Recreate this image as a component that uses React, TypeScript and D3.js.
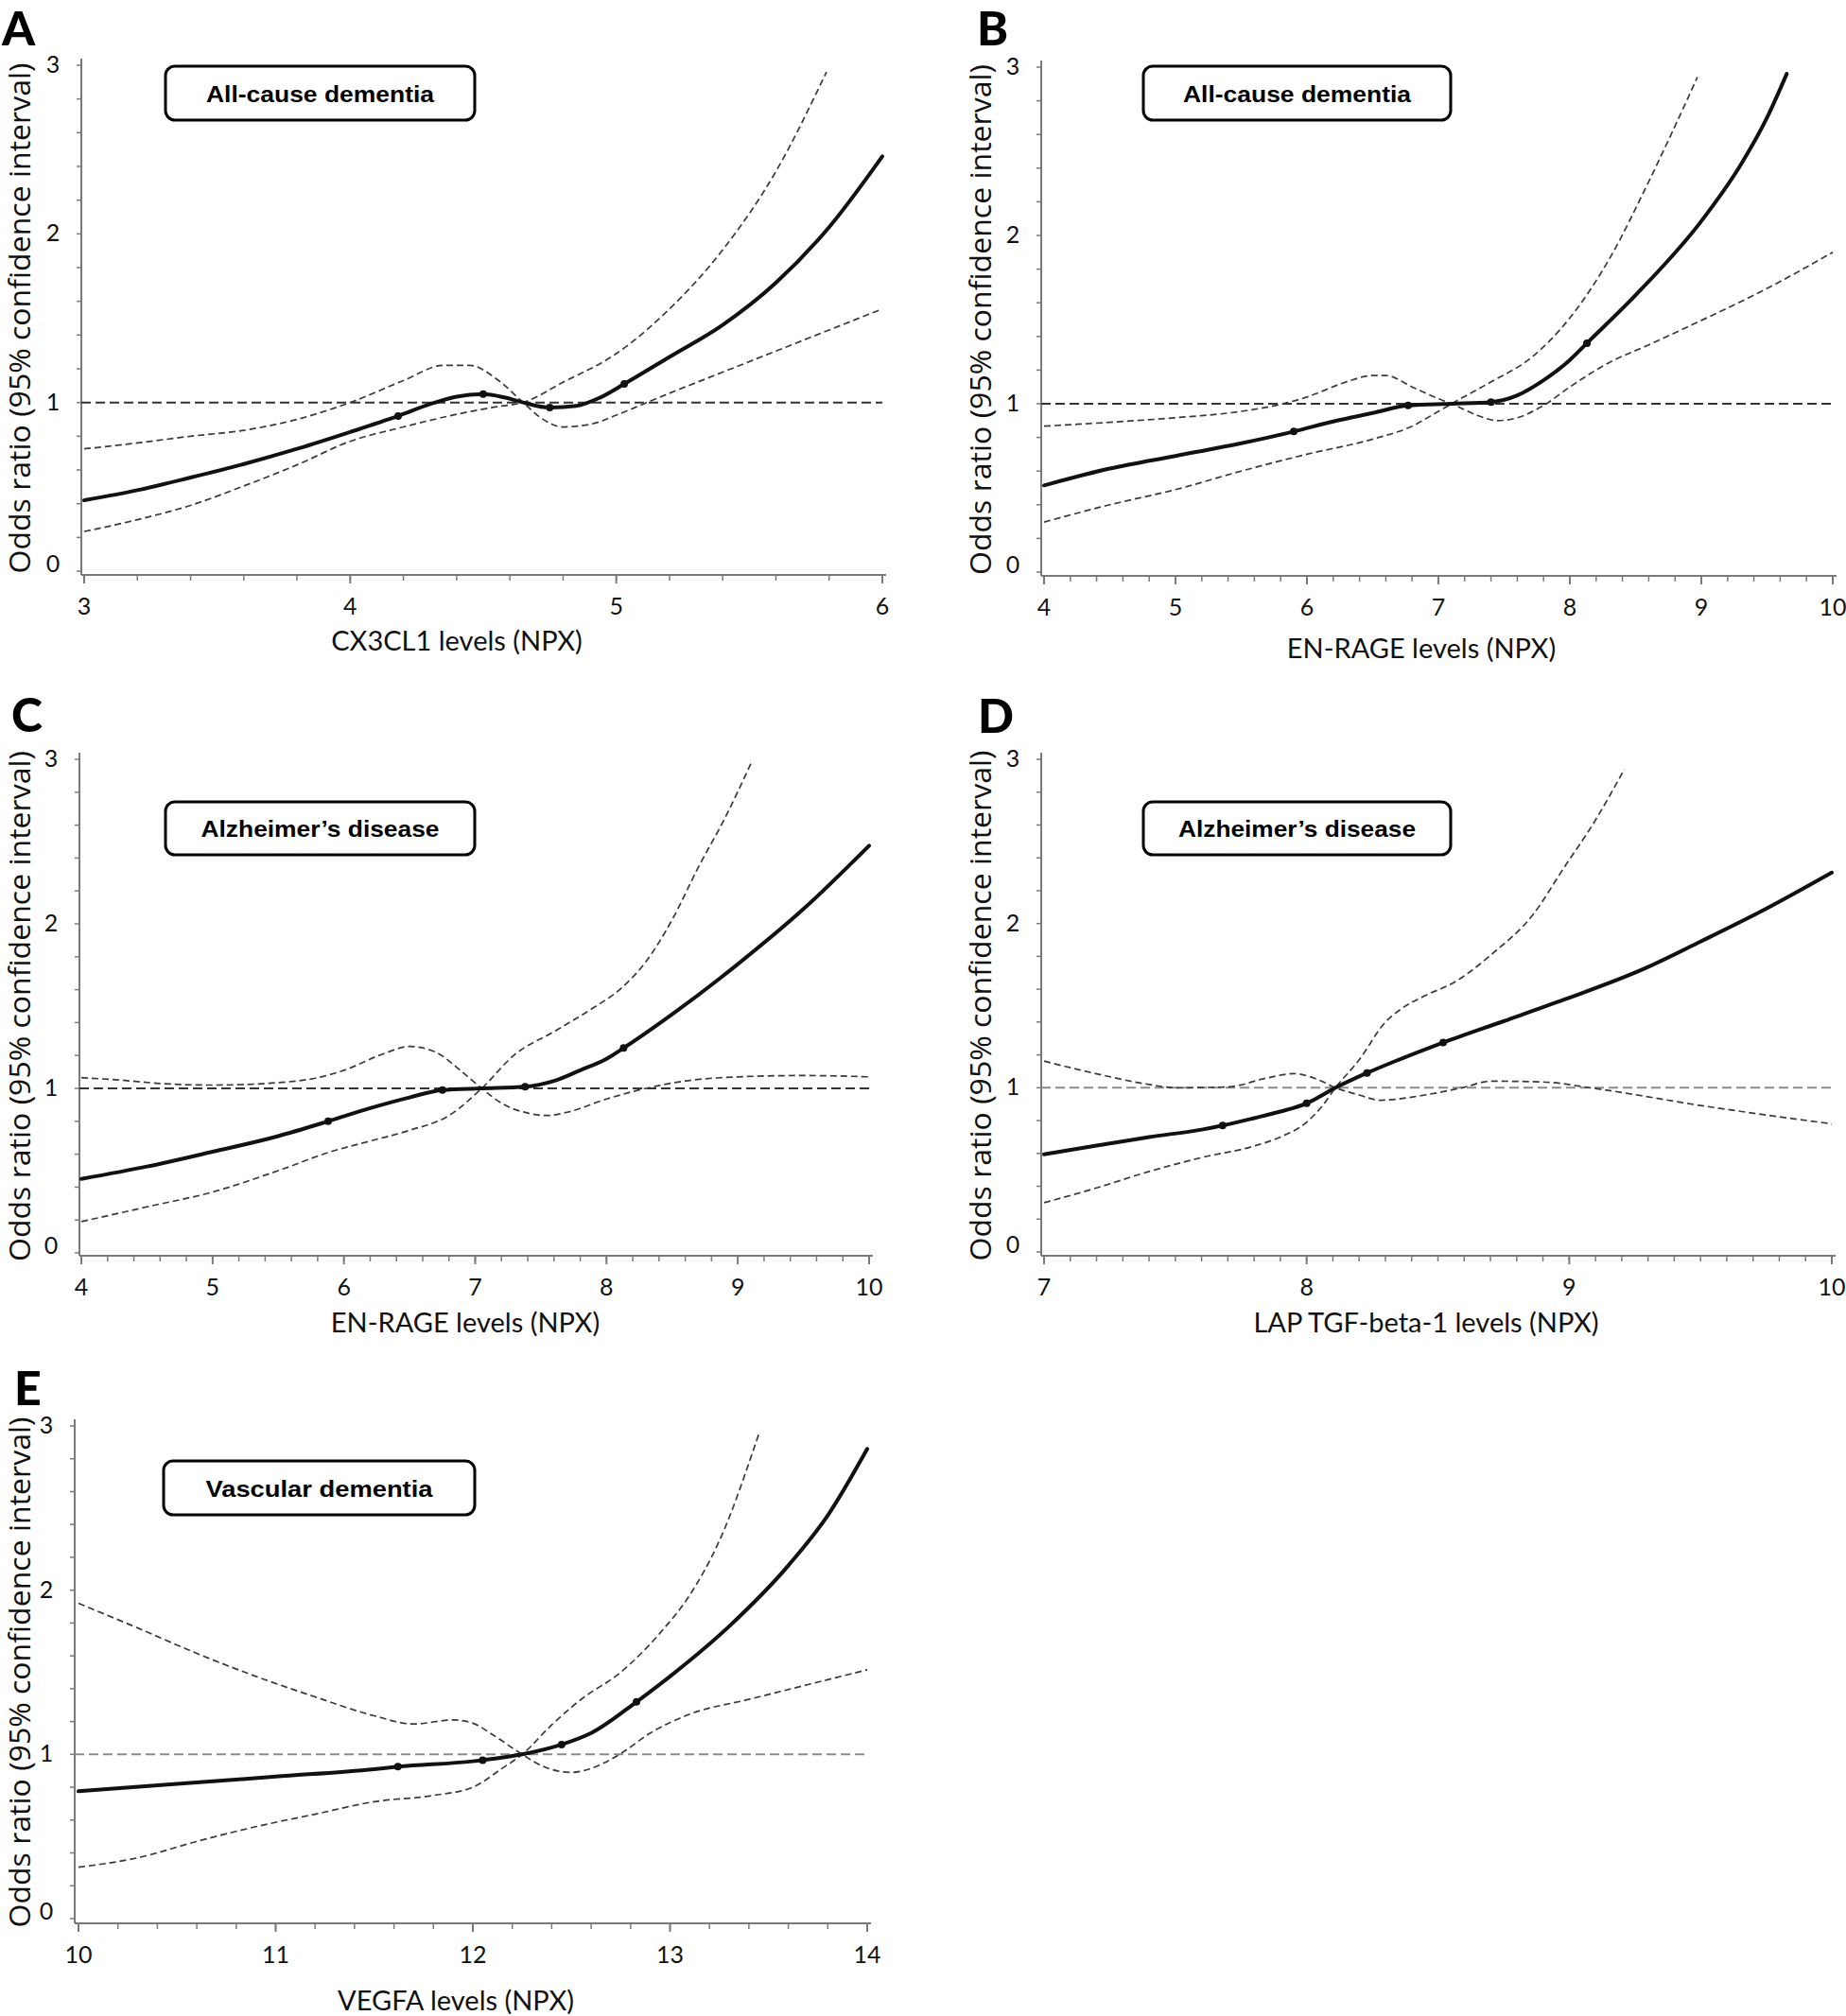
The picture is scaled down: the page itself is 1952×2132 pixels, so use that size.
import React from 'react';
import * as d3 from 'd3';

type Pt = [number, number];

// ---------- DATA ----------
const Y_TICKS = [0, 1, 2, 3];
const Y_LABEL = 'Odds ratio (95% confidence interval)';

// Panel A
const A_xTicks = [3, 4, 5, 6];
const A_main: Pt[] = [[3, 0.42], [3.2, 0.48], [3.4, 0.555], [3.6, 0.635], [3.8, 0.725], [4.0, 0.825], [4.18, 0.92], [4.3, 0.99], [4.4, 1.035], [4.5, 1.05], [4.58, 1.03], [4.65, 1.0], [4.75, 0.97], [4.85, 0.98], [4.94, 1.03], [5.03, 1.11], [5.2, 1.27], [5.4, 1.46], [5.6, 1.71], [5.8, 2.04], [6.0, 2.46]];
const A_ci1: Pt[] = [[3, 0.235], [3.2, 0.305], [3.4, 0.39], [3.6, 0.505], [3.8, 0.63], [4.0, 0.77], [4.2, 0.855], [4.4, 0.93], [4.55, 0.975], [4.65, 1.0], [4.8, 1.12], [5.0, 1.29], [5.2, 1.555], [5.4, 1.905], [5.6, 2.37], [5.79, 2.96]];
const A_ci2: Pt[] = [[3, 0.725], [3.2, 0.76], [3.4, 0.80], [3.6, 0.835], [3.8, 0.9], [4.0, 1.0], [4.2, 1.13], [4.35, 1.22], [4.45, 1.22], [4.55, 1.14], [4.65, 1.0], [4.72, 0.905], [4.8, 0.855], [4.9, 0.87], [5.0, 0.925], [5.1, 0.99], [5.2, 1.055], [5.4, 1.18], [5.6, 1.305], [5.8, 1.43], [6.0, 1.555]];
const A_dots: Pt[] = [[4.18, 0.92], [4.5, 1.05], [4.75, 0.97], [5.03, 1.11]];

// Panel B
const B_xTicks = [4, 5, 6, 7, 8, 9, 10];
const B_main: Pt[] = [[4, 0.515], [4.5, 0.615], [5, 0.69], [5.5, 0.765], [5.9, 0.835], [6.2, 0.895], [6.5, 0.945], [6.77, 0.99], [7.1, 1.0], [7.4, 1.01], [7.6, 1.05], [7.8, 1.14], [8.0, 1.26], [8.13, 1.36], [8.5, 1.645], [9.0, 2.085], [9.3, 2.42], [9.5, 2.7], [9.65, 2.96]];
const B_ci1: Pt[] = [[4, 0.297], [4.5, 0.4], [5, 0.49], [5.5, 0.6], [6, 0.7], [6.5, 0.79], [6.8, 0.867], [7.0, 0.955], [7.1, 1.0], [7.4, 1.13], [7.7, 1.27], [8.0, 1.51], [8.3, 1.86], [8.6, 2.32], [8.8, 2.65], [8.97, 2.94]];
const B_ci2: Pt[] = [[4, 0.867], [4.5, 0.89], [5, 0.917], [5.5, 0.955], [5.8, 0.997], [6.0, 1.04], [6.3, 1.13], [6.5, 1.168], [6.6, 1.168], [6.8, 1.1], [7.0, 1.03], [7.1, 1.0], [7.3, 0.93], [7.45, 0.9], [7.6, 0.917], [7.8, 0.99], [8.0, 1.1], [8.3, 1.245], [8.6, 1.35], [9.0, 1.495], [9.5, 1.685], [10, 1.9]];
const B_dots: Pt[] = [[5.9, 0.835], [6.77, 0.99], [7.4, 1.01], [8.13, 1.36]];

// Panel C
const C_xTicks = [4, 5, 6, 7, 8, 9, 10];
const C_main: Pt[] = [[4, 0.45], [4.5, 0.525], [5, 0.615], [5.5, 0.71], [5.88, 0.8], [6.2, 0.88], [6.5, 0.945], [6.75, 0.99], [7.05, 1.0], [7.38, 1.01], [7.6, 1.045], [7.8, 1.11], [8.0, 1.18], [8.13, 1.245], [8.5, 1.45], [9, 1.755], [9.5, 2.09], [10, 2.475]];
const C_ci1: Pt[] = [[4, 0.19], [4.5, 0.28], [5, 0.37], [5.5, 0.5], [5.9, 0.615], [6.2, 0.68], [6.5, 0.745], [6.8, 0.835], [7.05, 1.0], [7.3, 1.205], [7.6, 1.345], [7.9, 1.49], [8.1, 1.6], [8.3, 1.77], [8.5, 2.025], [8.7, 2.345], [8.9, 2.64], [9.1, 2.975]];
const C_ci2: Pt[] = [[4, 1.065], [4.3, 1.05], [4.6, 1.03], [5, 1.02], [5.5, 1.035], [5.8, 1.065], [6.0, 1.11], [6.3, 1.21], [6.5, 1.255], [6.7, 1.22], [6.9, 1.1], [7.05, 1.0], [7.2, 0.91], [7.4, 0.85], [7.55, 0.835], [7.7, 0.855], [8.0, 0.935], [8.3, 1.0], [8.6, 1.045], [9.0, 1.07], [9.5, 1.078], [10, 1.07]];
const C_dots: Pt[] = [[5.88, 0.8], [6.75, 0.99], [7.38, 1.01], [8.13, 1.245]];

// Panel D
const D_xTicks = [7, 8, 9, 10];
const D_main: Pt[] = [[7, 0.595], [7.2, 0.648], [7.4, 0.7], [7.6, 0.745], [7.68, 0.77], [7.8, 0.815], [7.9, 0.855], [8.0, 0.905], [8.11, 1.0], [8.23, 1.09], [8.35, 1.17], [8.52, 1.275], [8.75, 1.405], [8.98, 1.536], [9.29, 1.728], [9.5, 1.89], [9.75, 2.09], [10, 2.31]];
const D_ci1: Pt[] = [[7, 0.3], [7.2, 0.39], [7.4, 0.49], [7.6, 0.575], [7.8, 0.645], [7.9, 0.7], [8.0, 0.79], [8.06, 0.89], [8.11, 1.0], [8.2, 1.17], [8.3, 1.4], [8.36, 1.48], [8.45, 1.56], [8.56, 1.64], [8.71, 1.82], [8.86, 2.05], [8.98, 2.34], [9.1, 2.63], [9.21, 2.94]];
const D_ci2: Pt[] = [[7, 1.162], [7.2, 1.085], [7.4, 1.02], [7.5, 1.0], [7.7, 1.005], [7.85, 1.06], [7.95, 1.086], [8.05, 1.045], [8.11, 1.0], [8.2, 0.956], [8.28, 0.924], [8.45, 0.956], [8.6, 1.003], [8.7, 1.04], [8.9, 1.035], [9.1, 0.995], [9.5, 0.892], [10, 0.78]];
const D_dots: Pt[] = [[7.68, 0.77], [8.0, 0.905], [8.23, 1.09], [8.52, 1.275]];

// Panel E
const E_xTicks = [10, 11, 12, 13, 14];
const E_main: Pt[] = [[10, 0.776], [10.5, 0.82], [11, 0.865], [11.5, 0.91], [11.62, 0.925], [12, 0.958], [12.05, 0.965], [12.25, 1.0], [12.45, 1.06], [12.6, 1.13], [12.83, 1.32], [13, 1.475], [13.3, 1.78], [13.6, 2.15], [13.8, 2.455], [14, 2.86]];
const E_ci1: Pt[] = [[10, 0.313], [10.3, 0.37], [10.6, 0.47], [10.9, 0.56], [11.2, 0.636], [11.5, 0.712], [11.8, 0.75], [12.0, 0.8], [12.15, 0.916], [12.25, 1.0], [12.4, 1.18], [12.55, 1.336], [12.75, 1.5], [12.95, 1.74], [13.1, 1.97], [13.25, 2.3], [13.45, 2.95]];
const E_ci2: Pt[] = [[10, 1.92], [10.3, 1.77], [10.6, 1.615], [10.9, 1.475], [11.2, 1.35], [11.5, 1.235], [11.7, 1.185], [11.9, 1.21], [12.0, 1.19], [12.1, 1.12], [12.25, 1.0], [12.35, 0.93], [12.5, 0.89], [12.6, 0.915], [12.75, 1.005], [12.9, 1.13], [13.1, 1.245], [13.4, 1.335], [13.7, 1.425], [14, 1.515]];
const E_dots: Pt[] = [[11.62, 0.925], [12.05, 0.965], [12.45, 1.06], [12.83, 1.32]];

const PANELS = [
  { letter: 'A', title: 'All-cause dementia', xLabel: 'CX3CL1 levels (NPX)', xTicks: A_xTicks, main: A_main, ci1: A_ci1, ci2: A_ci2, dots: A_dots },
  { letter: 'B', title: 'All-cause dementia', xLabel: 'EN-RAGE levels (NPX)', xTicks: B_xTicks, main: B_main, ci1: B_ci1, ci2: B_ci2, dots: B_dots },
  { letter: 'C', title: 'Alzheimer\u2019s disease', xLabel: 'EN-RAGE levels (NPX)', xTicks: C_xTicks, main: C_main, ci1: C_ci1, ci2: C_ci2, dots: C_dots },
  { letter: 'D', title: 'Alzheimer\u2019s disease', xLabel: 'LAP TGF-beta-1 levels (NPX)', xTicks: D_xTicks, main: D_main, ci1: D_ci1, ci2: D_ci2, dots: D_dots },
  { letter: 'E', title: 'Vascular dementia', xLabel: 'VEGFA levels (NPX)', xTicks: E_xTicks, main: E_main, ci1: E_ci1, ci2: E_ci2, dots: E_dots },
];

// ---------- LAYOUT ----------
type Layout = {
  letterX: number; letterY: number;
  x0: number; x1: number; y0: number; y3: number;
  axisX: number; xAxisY: number; minor: number;
  box: [number, number, number, number]; boxTextLen: number;
  yLabelX: number; xLabelX: number; xLabelY: number;
  refColor: string;
};

const LAYOUTS: Layout[] = [
  { letterX: 2, letterY: 48, x0: 89, x1: 933, y0: 604, y3: 69, axisX: 86, xAxisY: 608, minor: 0.2, box: [175, 70, 327, 57], boxTextLen: 241, yLabelX: 20, xLabelX: 483, xLabelY: 676, refColor: '#333' },
  { letterX: 1033, letterY: 48, x0: 1104, x1: 1938, y0: 605, y3: 71, axisX: 1101, xAxisY: 609, minor: 0.2, box: [1209, 70, 325, 57], boxTextLen: 241, yLabelX: 1036, xLabelX: 1503, xLabelY: 684, refColor: '#333' },
  { letterX: 12, letterY: 774, x0: 86, x1: 919, y0: 1325, y3: 803, axisX: 84, xAxisY: 1328, minor: 0.2, box: [175, 848, 327, 56], boxTextLen: 252, yLabelX: 20, xLabelX: 492, xLabelY: 1397, refColor: '#333' },
  { letterX: 1034, letterY: 775, x0: 1104, x1: 1937, y0: 1324, y3: 803, axisX: 1101, xAxisY: 1328, minor: 0.1, box: [1209, 848, 325, 56], boxTextLen: 251, yLabelX: 1036, xLabelX: 1508, xLabelY: 1397, refColor: '#8a8a8a' },
  { letterX: 15, letterY: 1486, x0: 83, x1: 917, y0: 2029, y3: 1508, axisX: 79, xAxisY: 2034, minor: 0.2, box: [173, 1545, 329, 57], boxTextLen: 240, yLabelX: 20, xLabelX: 482, xLabelY: 2114, refColor: '#8a8a8a' },
];

const LABEL_FONT = "Lato, 'Open Sans', sans-serif";
const AXIS_COLOR = '#7a7a7a';

function Panel({ p, L }: { p: typeof PANELS[number]; L: Layout }) {
  const xmin = p.xTicks[0];
  const xmax = p.xTicks[p.xTicks.length - 1];
  const x = d3.scaleLinear().domain([xmin, xmax]).range([L.x0, L.x1]);
  const y = d3.scaleLinear().domain([0, 3]).range([L.y0, L.y3]);
  const line = d3.line<Pt>().x(d => x(d[0])).y(d => y(d[1])).curve(d3.curveMonotoneX);

  const nMinor = Math.round((xmax - xmin) / L.minor);
  const minorX = d3.range(0, nMinor + 1).map(i => xmin + i * L.minor);
  const minorY = d3.range(0, 16).map(i => i * 0.2);
  const [bx, by, bw, bh] = L.box;
  const yMid = (y(0) + y(3)) / 2;

  return (
    <g>
      <text x={L.letterX} y={L.letterY} fontFamily={LABEL_FONT} fontWeight={900} fontSize={50} fill="#000">{p.letter}</text>

      {/* y axis */}
      <line x1={L.axisX} x2={L.axisX} y1={y(3) - 7} y2={L.xAxisY} stroke={AXIS_COLOR} strokeWidth={2} />
      {minorY.map((v, i) => (
        <line key={'ym' + i} x1={L.axisX - 5} x2={L.axisX} y1={y(v)} y2={y(v)} stroke={AXIS_COLOR} strokeWidth={1.5} />
      ))}
      {Y_TICKS.map(v => (
        <text key={'yt' + v} x={L.axisX - 30} y={y(v) - (v === 0 ? 9 : 2)} textAnchor="middle" dominantBaseline="central" fontFamily={LABEL_FONT} fontSize={25} fill="#111">{v}</text>
      ))}

      {/* x axis */}
      <line x1={L.axisX} x2={x(xmax) + 4} y1={L.xAxisY} y2={L.xAxisY} stroke={AXIS_COLOR} strokeWidth={2} />
      {minorX.map((v, i) => (
        <line key={'xm' + i} x1={x(v)} x2={x(v)} y1={L.xAxisY} y2={L.xAxisY + 6} stroke={AXIS_COLOR} strokeWidth={1.5} />
      ))}
      {p.xTicks.map(v => (
        <g key={'xt' + v}>
          <line x1={x(v)} x2={x(v)} y1={L.xAxisY} y2={L.xAxisY + 9} stroke={AXIS_COLOR} strokeWidth={2} />
          <text x={x(v)} y={L.xAxisY + 32} textAnchor="middle" dominantBaseline="central" fontFamily={LABEL_FONT} fontSize={25} fill="#111">{v}</text>
        </g>
      ))}

      {/* axis labels */}
      <text transform={`translate(${L.yLabelX},${yMid}) rotate(-90)`} textAnchor="middle" dominantBaseline="central" fontFamily="'Open Sans', sans-serif" fontSize={31} fill="#111" textLength={540} lengthAdjust="spacingAndGlyphs">{Y_LABEL}</text>
      <text x={L.xLabelX} y={L.xLabelY} textAnchor="middle" dominantBaseline="central" fontFamily={LABEL_FONT} fontSize={29} fill="#111">{p.xLabel}</text>

      {/* reference line */}
      <line x1={L.axisX} x2={x(xmax)} y1={y(1)} y2={y(1)} stroke={L.refColor} strokeWidth={2} strokeDasharray="10,5" />

      {/* confidence limits */}
      <path d={line(p.ci1) || ''} fill="none" stroke="#3a3a3a" strokeWidth={1.7} strokeDasharray="7,4" />
      <path d={line(p.ci2) || ''} fill="none" stroke="#3a3a3a" strokeWidth={1.7} strokeDasharray="7,4" />

      {/* estimate */}
      <path d={line(p.main) || ''} fill="none" stroke="#111" strokeWidth={4} strokeLinecap="round" />
      {p.dots.map((d, i) => (
        <circle key={'d' + i} cx={x(d[0])} cy={y(d[1])} r={4} fill="#111" />
      ))}

      {/* title box */}
      <rect x={bx} y={by} width={bw} height={bh} rx={10} ry={10} fill="#fff" stroke="#000" strokeWidth={3} />
      <text x={bx + bw / 2} y={by + bh / 2 + 9} textAnchor="middle" fontFamily="'Liberation Sans', Arial, sans-serif" fontWeight={700} fontSize={24} fill="#000" textLength={L.boxTextLen} lengthAdjust="spacingAndGlyphs">{p.title}</text>
    </g>
  );
}

export default function App() {
  return (
    <svg width={1952} height={2132} viewBox="0 0 1952 2132" style={{ position: 'absolute', left: 0, top: 0, display: 'block', background: '#fff' }}>
      <rect x={0} y={0} width={1952} height={2132} fill="#fff" />
      {PANELS.map((p, i) => (
        <Panel key={p.letter} p={p} L={LAYOUTS[i]} />
      ))}
    </svg>
  );
}
